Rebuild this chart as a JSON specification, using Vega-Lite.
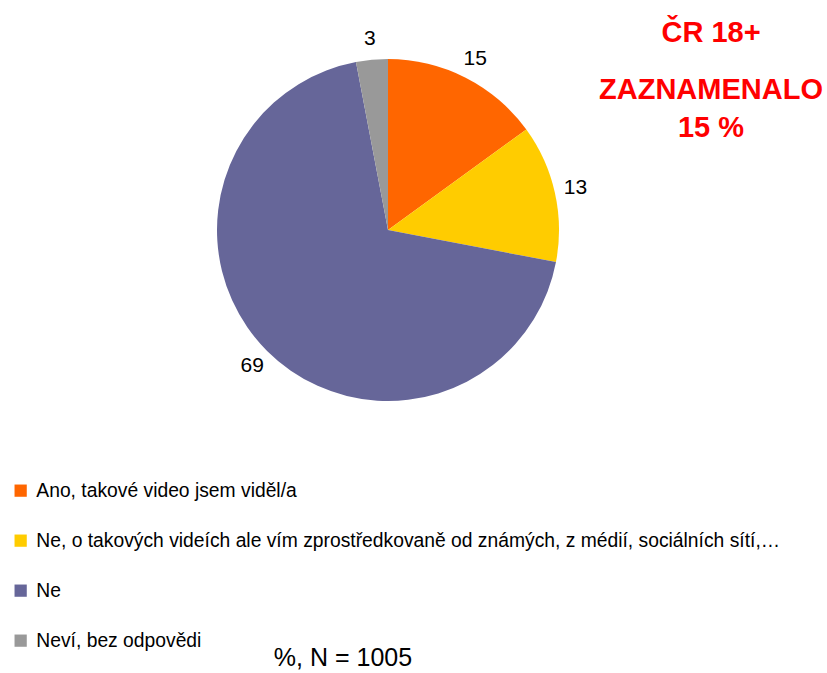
{
  "$schema": "https://vega.github.io/schema/vega-lite/v6.json",
  "width": 776,
  "height": 460,
  "padding": 0,
  "autosize": {"type": "pad"},
  "background": "white",
  "config": {"view": {"stroke": null}, "font": "Liberation Sans"},
  "data": {"values": [
    {"odpoved": "Ano, takové video jsem viděl/a", "podil": 15, "poradi": 1},
    {"odpoved": "Ne, o takových videích ale vím zprostředkovaně od známých, z médií, sociálních sítí,…", "podil": 13, "poradi": 2},
    {"odpoved": "Ne", "podil": 69, "poradi": 3},
    {"odpoved": "Neví, bez odpovědi", "podil": 3, "poradi": 4}
  ]},
  "layer": [
    {
      "mark": {"type": "arc", "outerRadius": 171},
      "encoding": {
        "theta": {"field": "podil", "type": "quantitative", "stack": true},
        "order": {"field": "poradi", "type": "quantitative"},
        "color": {
          "field": "odpoved",
          "type": "nominal",
          "sort": null,
          "scale": {
            "domain": [
              "Ano, takové video jsem viděl/a",
              "Ne, o takových videích ale vím zprostředkovaně od známých, z médií, sociálních sítí,…",
              "Ne",
              "Neví, bez odpovědi"
            ],
            "range": ["#FF6600", "#FFCC00", "#666699", "#999999"]
          },
          "legend": {
            "orient": "none",
            "legendX": 11,
            "legendY": 481,
            "title": null,
            "symbolType": "square",
            "symbolSize": 150,
            "symbolStrokeWidth": 0,
            "labelFontSize": 19.3,
            "labelFont": "Liberation Sans",
            "labelColor": "black",
            "labelLimit": 800,
            "rowPadding": 30,
            "labelOffset": 6,
            "padding": 0
          }
        }
      }
    },
    {
      "mark": {"type": "text", "radius": 192, "fontSize": 21, "font": "Liberation Sans"},
      "encoding": {
        "theta": {"field": "podil", "type": "quantitative", "stack": true},
        "order": {"field": "poradi", "type": "quantitative"},
        "text": {"field": "podil", "type": "quantitative"},
        "color": {"value": "black"}
      }
    },
    {
      "data": {"values": [{}]},
      "mark": {"type": "text", "text": "ČR 18+", "x": 711, "y": 33, "fontSize": 29, "fontWeight": "bold", "color": "#FF0000", "align": "center", "baseline": "middle", "font": "Liberation Sans"},
      "encoding": {}
    },
    {
      "data": {"values": [{}]},
      "mark": {"type": "text", "text": "ZAZNAMENALO", "x": 711, "y": 90, "fontSize": 29, "fontWeight": "bold", "color": "#FF0000", "align": "center", "baseline": "middle", "font": "Liberation Sans"},
      "encoding": {}
    },
    {
      "data": {"values": [{}]},
      "mark": {"type": "text", "text": "15 %", "x": 711, "y": 128, "fontSize": 29, "fontWeight": "bold", "color": "#FF0000", "align": "center", "baseline": "middle", "font": "Liberation Sans"},
      "encoding": {}
    },
    {
      "data": {"values": [{}]},
      "mark": {"type": "text", "text": "%, N = 1005", "x": 343, "y": 658, "fontSize": 25, "color": "black", "align": "center", "baseline": "middle", "font": "Liberation Sans"},
      "encoding": {}
    }
  ]
}
